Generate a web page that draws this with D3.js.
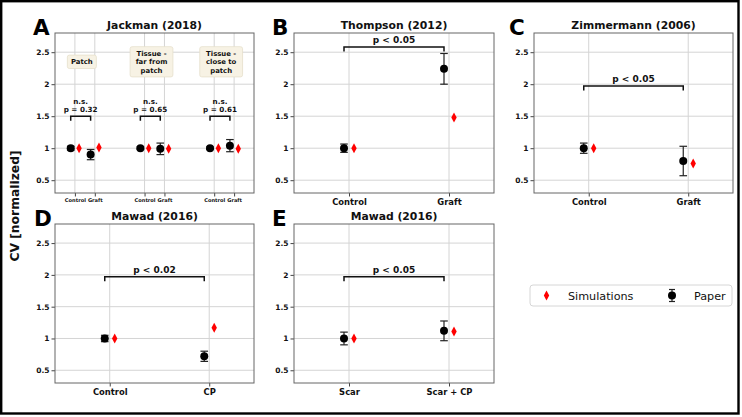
<!DOCTYPE html>
<html><head><meta charset="utf-8">
<script src="https://cdn.jsdelivr.net/npm/d3@7"></script>
<style>body{margin:0;background:#fff}svg{display:block}text{font-family:"DejaVu Sans",sans-serif}</style>
</head><body><svg id="c" width="742" height="417"></svg>
<script>
// ---------- data ----------
const yTicks = [0.5, 1, 1.5, 2, 2.5];
const yTickLabels = ["0.5", "1", "1.5", "2", "2.5"];

const jackCats = ["Control", "Graft", "Control", "Graft", "Control", "Graft"];
const jackPos = [0, 1, 3.5, 4.5, 7, 8];
const jackPaper = [1.00, 0.90, 1.00, 0.99, 1.00, 1.04];
const jackPaperErr = [0.03, 0.08, 0.02, 0.09, 0.02, 0.095];
const jackSim = [1.00, 1.01, 1.00, 0.99, 1.00, 0.99];
const jackGroups = [["Patch"], ["Tissue -", "far from", "patch"], ["Tissue -", "close to", "patch"]];
const jackStats = [["n.s.", "p = 0.32"], ["n.s.", "p = 0.65"], ["n.s.", "p = 0.61"]];

const thompsonCats = ["Control", "Graft"];
const thompsonPaper = [1.00, 2.24];
const thompsonErr = [0.065, 0.24];
const thompsonSim = [1.00, 1.48];

const zimmerCats = ["Control", "Graft"];
const zimmerPaper = [1.00, 0.80];
const zimmerErr = [0.08, 0.23];
const zimmerSim = [1.00, 0.76];

const mawadCpCats = ["Control", "CP"];
const mawadCpPaper = [1.00, 0.72];
const mawadCpErr = [0.05, 0.08];
const mawadCpSim = [1.00, 1.17];

const mawadScarCats = ["Scar", "Scar + CP"];
const mawadScarPaper = [1.00, 1.12];
const mawadScarErr = [0.10, 0.155];
const mawadScarSim = [1.00, 1.11];

const legendLabels = ["Simulations", "Paper"];

// ---------- drawing ----------
const svg = d3.select("#c");
svg.append("rect").attr("width", 742).attr("height", 417).attr("fill", "#fff");
svg.append("rect").attr("x", 1.2).attr("y", 1.2).attr("width", 737.3).attr("height", 412.3)
  .attr("fill", "none").attr("stroke", "#000").attr("stroke-width", 2.4);

const diamond = "M0,-5 L2.7,0 L0,5 L-2.7,0Z";

function panel(o) {
  const g = svg.append("g");
  const x = d3.scaleLinear().domain(o.xdom).range([o.x0, o.x0 + o.w]);
  const y = d3.scaleLinear().domain([0.3, 2.8]).range([o.y0 + o.h, o.y0]);
  // grid
  g.selectAll(".hg").data(yTicks).join("line")
    .attr("x1", o.x0).attr("x2", o.x0 + o.w).attr("y1", d => y(d)).attr("y2", d => y(d))
    .attr("stroke", "#d4d4d4").attr("stroke-width", 1);
  g.selectAll(".vg").data(o.pos).join("line")
    .attr("x1", d => x(d)).attr("x2", d => x(d)).attr("y1", o.y0).attr("y2", o.y0 + o.h)
    .attr("stroke", "#d4d4d4").attr("stroke-width", 1);
  // axes
  const ya = d3.axisLeft(y).tickValues(yTicks).tickFormat((d, i) => yTickLabels[i]).tickSize(3.5).tickPadding(2);
  const yg = g.append("g").attr("transform", `translate(${o.x0},0)`).call(ya);
  yg.select(".domain").remove();
  yg.selectAll("line").attr("stroke", "#444");
  yg.selectAll("text").attr("font-size", 7.5).attr("font-weight", "bold").attr("fill", "#111");
  const xa = d3.axisBottom(x).tickValues(o.pos).tickFormat((d, i) => o.cats[i]).tickSize(3.5).tickPadding(o.xpad);
  const xg = g.append("g").attr("transform", `translate(0,${o.y0 + o.h})`).call(xa);
  xg.select(".domain").remove();
  xg.selectAll("line").attr("stroke", "#444");
  xg.selectAll("text").attr("font-size", o.xfont).attr("font-weight", "bold").attr("fill", "#111");
  g.append("rect").attr("x", o.x0).attr("y", o.y0).attr("width", o.w).attr("height", o.h)
    .attr("fill", "none").attr("stroke", "#666").attr("stroke-width", 1);
  // title and letter
  g.append("text").attr("x", o.x0 + o.w / 2).attr("y", o.y0 - 4.5).attr("text-anchor", "middle")
    .attr("font-size", 10.8).attr("font-weight", "bold").attr("fill", "#111").text(o.title);
  g.append("text").attr("x", o.lx).attr("y", o.y0 + 2).attr("font-size", 21.5).attr("font-weight", "bold")
    .attr("fill", "#000").text(o.letter);
  // brackets
  o.brackets.forEach(b => {
    const xa1 = x(b.a - o.off), xb1 = x(b.b - o.off), yb = y(b.y), yl = y(b.y - b.leg);
    g.append("path").attr("d", `M${xa1},${yl}V${yb}H${xb1}V${yl}`).attr("fill", "none")
      .attr("stroke", "#111").attr("stroke-width", 1.5);
    b.text.forEach((t, i) => {
      g.append("text").attr("x", (xa1 + xb1) / 2).attr("y", yb - 4 - (b.text.length - 1 - i) * b.lh)
        .attr("text-anchor", "middle").attr("font-size", b.fs).attr("font-weight", "bold").attr("fill", "#111").text(t);
    });
  });
  // error bars
  const pts = o.pos.map((p, i) => ({ p, v: o.paper[i], e: o.err[i], s: o.sim[i] }));
  pts.forEach(d => {
    const cx = x(d.p - o.off);
    g.append("line").attr("x1", cx).attr("x2", cx).attr("y1", y(d.v - d.e)).attr("y2", y(d.v + d.e))
      .attr("stroke", "#222").attr("stroke-width", 1.2);
    [d.v - d.e, d.v + d.e].forEach(v => g.append("line").attr("x1", cx - 3.8).attr("x2", cx + 3.8)
      .attr("y1", y(v)).attr("y2", y(v)).attr("stroke", "#222").attr("stroke-width", 1.2));
  });
  g.selectAll(".pp").data(pts).join("circle").attr("cx", d => x(d.p - o.off)).attr("cy", d => y(d.v))
    .attr("r", 4).attr("fill", "#000");
  g.selectAll(".sp").data(pts).join("path").attr("d", diamond)
    .attr("transform", d => `translate(${x(d.p + o.off)},${y(d.s)})`).attr("fill", "#f00");
  return { g, x, y };
}

// Panel A
const pA = panel({ x0: 55, y0: 33, w: 199, h: 160, xdom: [-1, 9], pos: jackPos, cats: jackCats,
  paper: jackPaper, err: jackPaperErr, sim: jackSim, off: 0.21, xfont: 5.1, xpad: 1.5,
  title: "Jackman (2018)", letter: "A", lx: 33,
  brackets: [0, 1, 2].map(k => ({ a: jackPos[2 * k], b: jackPos[2 * k + 1], y: 1.5, leg: 0.07, fs: 7.2, lh: 8.6, text: jackStats[k] })) });
jackGroups.forEach((lines, k) => {
  const cx = pA.x((jackPos[2 * k] + jackPos[2 * k + 1]) / 2 - 0.15);
  const cy = pA.y(2.35);
  const lh = 8.4, n = lines.length;
  const bw = d3.max(lines, l => l.length) * 4.6 + 6;
  pA.g.append("rect").attr("x", cx - bw / 2).attr("y", cy - n * lh / 2 - 2.5).attr("width", bw).attr("height", n * lh + 5)
    .attr("rx", 2).attr("fill", "#f7f2e4").attr("stroke", "#e6dfcc").attr("stroke-width", 0.8);
  lines.forEach((l, i) => pA.g.append("text").attr("x", cx).attr("y", cy - n * lh / 2 + (i + 1) * lh - 1.8)
    .attr("text-anchor", "middle").attr("font-size", 6.9).attr("font-weight", "bold").attr("fill", "#111").text(l));
});

// Panel B
panel({ x0: 294, y0: 33, w: 200, h: 160, xdom: [-0.55, 1.45], pos: [0, 1], cats: thompsonCats,
  paper: thompsonPaper, err: thompsonErr, sim: thompsonSim, off: 0.05, xfont: 8.4, xpad: 2.5,
  title: "Thompson (2012)", letter: "B", lx: 272,
  brackets: [{ a: 0, b: 1, y: 2.58, leg: 0.07, fs: 9, lh: 0, text: ["p < 0.05"] }] });
// Panel C
panel({ x0: 534, y0: 33, w: 199, h: 160, xdom: [-0.55, 1.45], pos: [0, 1], cats: zimmerCats,
  paper: zimmerPaper, err: zimmerErr, sim: zimmerSim, off: 0.05, xfont: 8.4, xpad: 2.5,
  title: "Zimmermann (2006)", letter: "C", lx: 509,
  brackets: [{ a: 0, b: 1, y: 1.97, leg: 0.07, fs: 9, lh: 0, text: ["p < 0.05"] }] });
// Panel D
panel({ x0: 55, y0: 224, w: 199, h: 159, xdom: [-0.55, 1.45], pos: [0, 1], cats: mawadCpCats,
  paper: mawadCpPaper, err: mawadCpErr, sim: mawadCpSim, off: 0.05, xfont: 8.4, xpad: 2.5,
  title: "Mawad (2016)", letter: "D", lx: 34,
  brackets: [{ a: 0, b: 1, y: 1.97, leg: 0.07, fs: 9, lh: 0, text: ["p < 0.02"] }] });
// Panel E
panel({ x0: 294, y0: 224, w: 200, h: 159, xdom: [-0.55, 1.45], pos: [0, 1], cats: mawadScarCats,
  paper: mawadScarPaper, err: mawadScarErr, sim: mawadScarSim, off: 0.05, xfont: 8.4, xpad: 2.5,
  title: "Mawad (2016)", letter: "E", lx: 272,
  brackets: [{ a: 0, b: 1, y: 1.97, leg: 0.07, fs: 9, lh: 0, text: ["p < 0.05"] }] });

// y label
svg.append("text").attr("transform", "translate(19,206) rotate(-90)").attr("text-anchor", "middle")
  .attr("font-size", 12.3).attr("font-weight", "bold").attr("fill", "#111").text("CV [normalized]");

// legend
const lg = svg.append("g");
lg.append("rect").attr("x", 530).attr("y", 285).attr("width", 202).attr("height", 21).attr("rx", 3)
  .attr("fill", "#fff").attr("stroke", "#d6d6d6").attr("stroke-width", 1);
lg.append("path").attr("d", diamond).attr("transform", "translate(546.5,295.5)").attr("fill", "#f00");
lg.append("text").attr("x", 568).attr("y", 299.5).attr("font-size", 11.2).attr("fill", "#111").text(legendLabels[0]);
lg.append("line").attr("x1", 672).attr("x2", 672).attr("y1", 289.5).attr("y2", 301.5).attr("stroke", "#222").attr("stroke-width", 1.2);
[289.5, 301.5].forEach(v => lg.append("line").attr("x1", 669).attr("x2", 675).attr("y1", v).attr("y2", v).attr("stroke", "#222").attr("stroke-width", 1.2));
lg.append("circle").attr("cx", 672).attr("cy", 295.5).attr("r", 4).attr("fill", "#000");
lg.append("text").attr("x", 694).attr("y", 299.5).attr("font-size", 11.2).attr("fill", "#111").text(legendLabels[1]);
</script></body></html>
